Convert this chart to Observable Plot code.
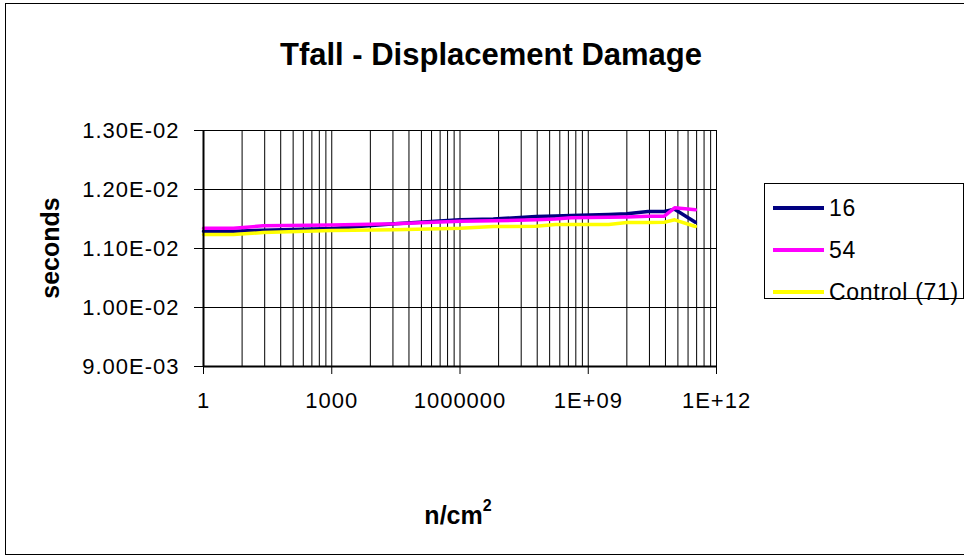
<!DOCTYPE html>
<html><head><meta charset="utf-8">
<script src="https://cdn.jsdelivr.net/npm/d3@7"></script>
<script src="https://cdn.jsdelivr.net/npm/@observablehq/plot@0.6"></script>
<style>
body{margin:0;background:#fff;font-family:"Liberation Sans",Arial,sans-serif;}
#wrap{position:relative;width:964px;height:558px;overflow:hidden;background:#fff;}
#outer{position:absolute;left:5px;top:3px;width:1000px;height:552px;border:1px solid #000;box-sizing:border-box;}
#title{position:absolute;left:491px;top:55px;transform:translate(-50%,-50%);font-weight:bold;font-size:31px;white-space:nowrap;color:#000;}
#ylab{position:absolute;left:50px;top:248px;transform:translate(-50%,-50%) rotate(-90deg);font-weight:bold;font-size:25px;white-space:nowrap;color:#000;}
#xlab{position:absolute;left:458px;top:515px;transform:translate(-50%,-50%);font-weight:bold;font-size:25px;white-space:nowrap;color:#000;}
#xlab sup{font-size:16px;vertical-align:top;position:relative;top:-4px;}
#chart{position:absolute;left:0;top:0;}
#chart svg text{letter-spacing:1px;}
#legend{position:absolute;left:764px;top:183px;width:200px;height:116px;border:1px solid #000;box-sizing:border-box;background:#fff;}
.item{position:absolute;left:8px;height:30px;display:flex;align-items:center;font-size:23px;letter-spacing:0.7px;color:#000;white-space:nowrap;}
.item svg{margin-right:5px;}
</style>
</head><body>
<div id="wrap">
  <div id="outer"></div>
  <div id="chart"></div>
  <div id="title"></div>
  <div id="ylab"></div>
  <div id="xlab"></div>
  <div id="legend"></div>
</div>
<script>
// ---- data ----
const chartTitle = "Tfall - Displacement Damage";
const yTitle = "seconds";
const xTitleBase = "n/cm";
const xTitleSup = "2";
const seriesNames = ["16", "54", "Control (71)"];
const seriesColors = ["#000080", "#FF00FF", "#FFFF00"];
const fluence = [1, 5, 25, 1e3, 3e4, 1e6, 6e6, 6e7, 1.7e8, 4e8, 3e9, 8e9, 2.5e10, 6e10, 1.05e11, 3.2e11];
const s16 = [0.011294, 0.011294, 0.01131, 0.01134, 0.011418, 0.011486, 0.0115, 0.011542, 0.01155, 0.01156, 0.011575, 0.011588, 0.011627, 0.011627, 0.011667, 0.011446];
const s54 = [0.011345, 0.011345, 0.011384, 0.0114, 0.011418, 0.011463, 0.01147, 0.011486, 0.0115, 0.01152, 0.01153, 0.011535, 0.011548, 0.011548, 0.011689, 0.011655];
const sControl = [0.011237, 0.011237, 0.011271, 0.011305, 0.011316, 0.011345, 0.011373, 0.011378, 0.011407, 0.011407, 0.011407, 0.011441, 0.011441, 0.011446, 0.011486, 0.011373];
const xTickValues = [1, 1e3, 1e6, 1e9, 1e12];
const xTickLabels = ["1", "1000", "1000000", "1E+09", "1E+12"];
const yTickValues = [0.009, 0.010, 0.011, 0.012, 0.013];
const yTickLabels = ["9.00E-03", "1.00E-02", "1.10E-02", "1.20E-02", "1.30E-02"];

// ---- build ----
const seriesValues = [s16, s54, sControl];
const rows = [];
seriesNames.forEach((name, si) => {
  fluence.forEach((f, i) => rows.push({series: name, x: f, y: seriesValues[si][i]}));
});
// Excel-style log gridlines (8 minor lines inside each major interval)
const grid = [];
for (let i = 0; i < 4; i++) {
  for (let k = 2; k <= 10; k++) grid.push(Math.pow(1000, i) * k * k * k);
}

const plot = Plot.plot({
  width: 964,
  height: 558,
  marginLeft: 203,
  marginRight: 248,
  marginTop: 130,
  marginBottom: 192,
  style: {background: "transparent", fontFamily: "Liberation Sans, Arial, sans-serif", color: "#000"},
  x: {type: "log", domain: [1, 1e12], label: null},
  y: {domain: [0.009, 0.013], label: null},
  color: {domain: seriesNames, range: seriesColors},
  marks: [
    Plot.gridX(grid, {stroke: "#000", strokeOpacity: 1, strokeWidth: 1}),
    Plot.gridY(yTickValues, {stroke: "#000", strokeOpacity: 1, strokeWidth: 1}),
    Plot.frame({stroke: "#000", strokeWidth: 1}),
    Plot.line(rows, {x: "x", y: "y", z: "series", stroke: "series", strokeWidth: 3.5}),
    Plot.ruleX([1], {stroke: "#000", strokeWidth: 2}),
    Plot.ruleY([0.009], {stroke: "#000", strokeWidth: 2}),
    Plot.axisX(xTickValues, {tickFormat: d => xTickLabels[xTickValues.indexOf(d)], tickSize: 8, tickPadding: 18, fontSize: 22, stroke: "#000", label: null}),
    Plot.axisY(yTickValues, {tickFormat: d => yTickLabels[yTickValues.indexOf(d)], tickSize: 9, tickPadding: 15, fontSize: 22, stroke: "#000", label: null})
  ]
});
document.getElementById("chart").appendChild(plot);

document.getElementById("title").textContent = chartTitle;
document.getElementById("ylab").textContent = yTitle;
const xl = document.getElementById("xlab");
xl.textContent = xTitleBase;
const sup = document.createElement("sup"); sup.textContent = xTitleSup; xl.appendChild(sup);

const legend = document.getElementById("legend");
const itemCenters = [24, 66, 108];
seriesNames.forEach((name, i) => {
  const it = document.createElement("div");
  it.className = "item";
  it.style.top = (itemCenters[i] - 15) + "px";
  it.innerHTML = `<svg width="51" height="8"><line x1="0" x2="51" y1="4" y2="4" stroke="${seriesColors[i]}" stroke-width="4"/></svg><span>${name}</span>`;
  legend.appendChild(it);
});
</script>
</body></html>
